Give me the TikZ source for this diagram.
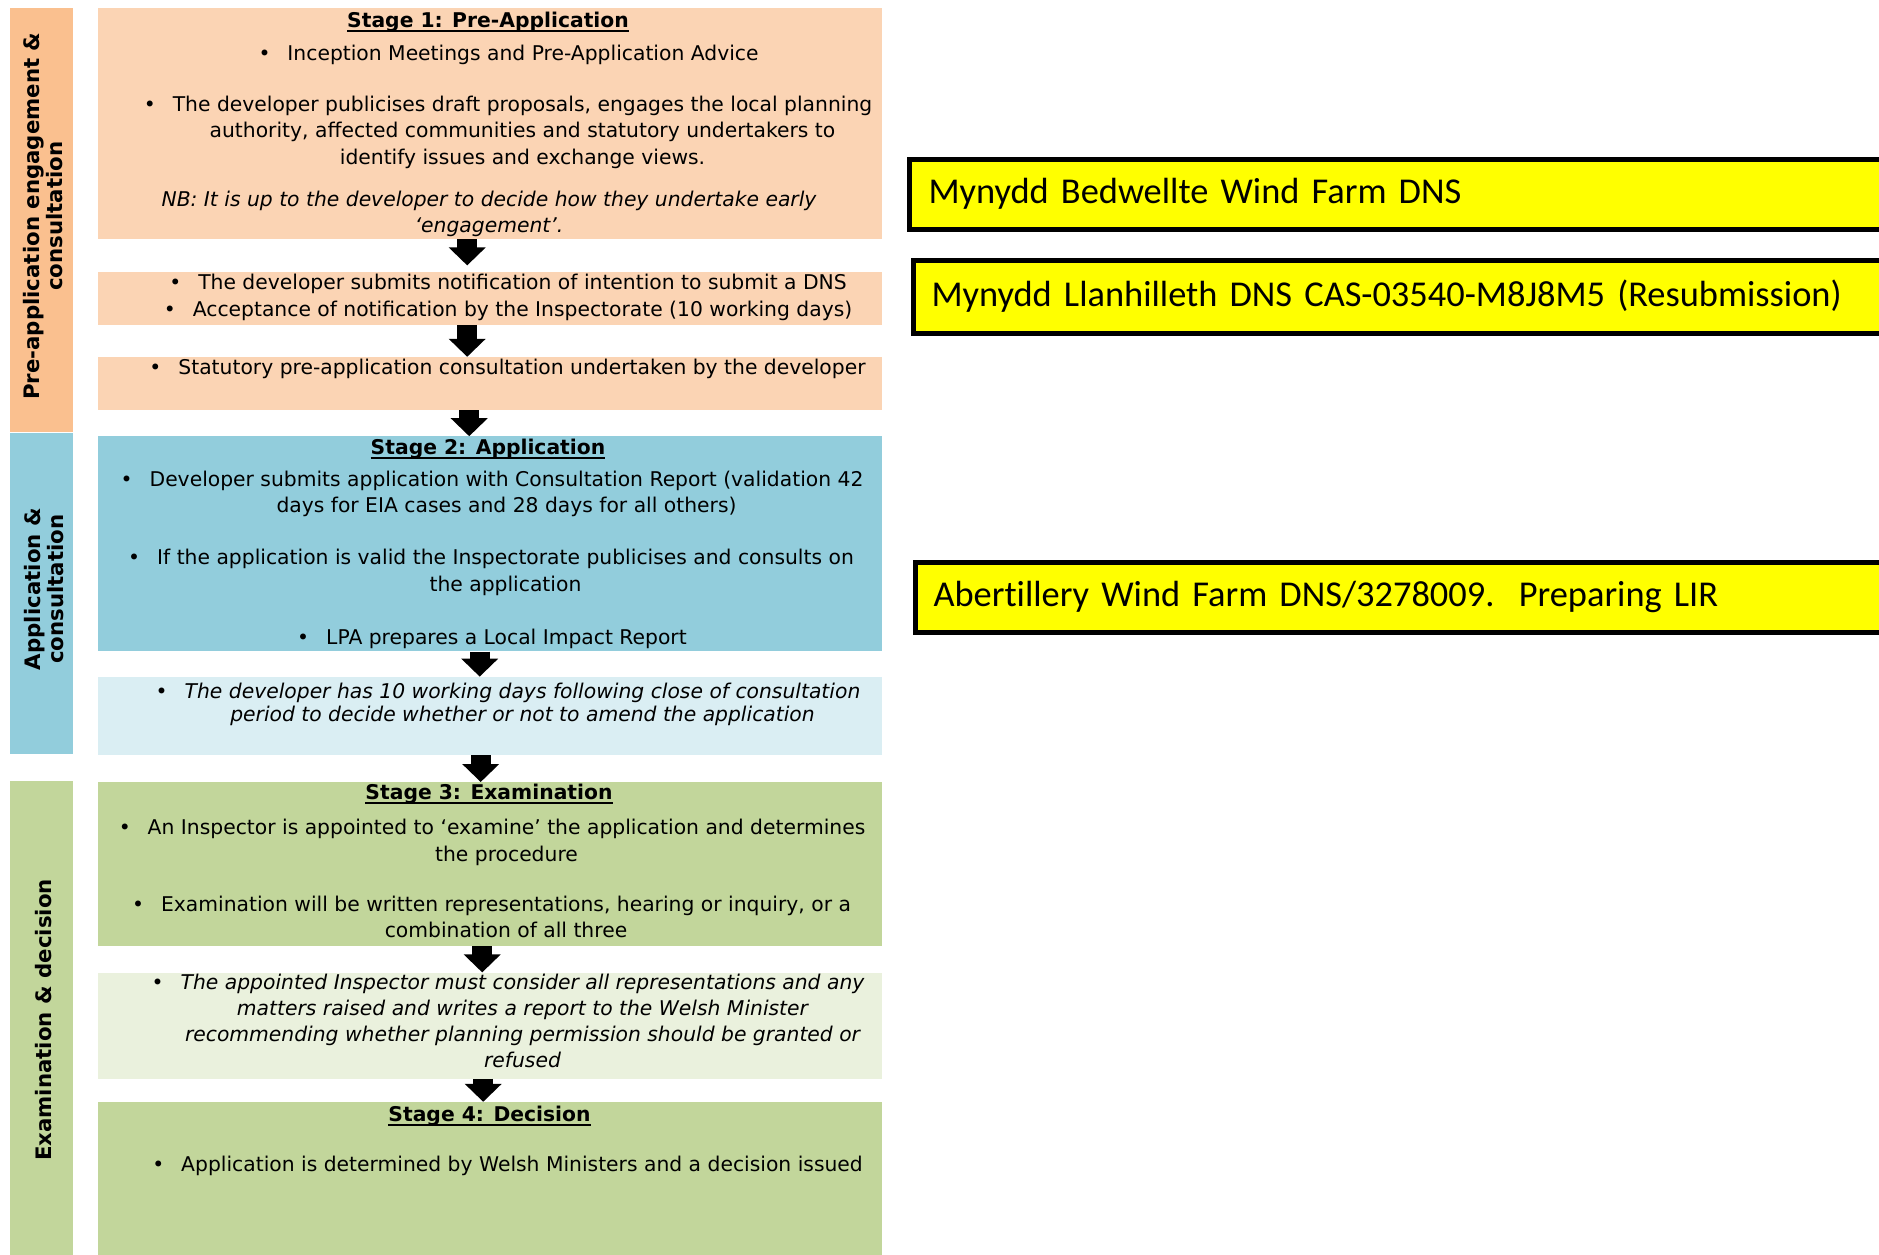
\documentclass[tikz,border=0pt]{standalone}
\usepackage{fontspec}
\setmainfont{DejaVu Sans}
\newfontfamily\calfont[Ligatures=NoCommon]{Carlito}
\usetikzlibrary{arrows.meta,positioning}
\definecolor{preorange}{HTML}{FAC08F}
\definecolor{prelight}{HTML}{FBD4B4}
\definecolor{appblue}{HTML}{92CDDC}
\definecolor{applight}{HTML}{DAEEF3}
\definecolor{exgreen}{HTML}{C2D69B}
\definecolor{exlight}{HTML}{EAF1DD}
\definecolor{dnsyellow}{HTML}{FFFF00}
\newsavebox{\headbox}
\newcommand{\bulletbox}{\makebox[29pt][l]{\textbullet}}
\newcommand{\contind}{\hspace*{29pt}}
\newcommand{\stagehead}[1]{\strut\sbox{\headbox}{\textbf{#1}}%
  \rlap{\rule[-4.5pt]{\wd\headbox}{2pt}}\usebox{\headbox}}

\begin{document}
\begin{tikzpicture}[
    x=1pt, y=-1pt,
    stagebox/.style={rectangle, inner sep=0pt, minimum width=784pt},
    sidebar/.style={rectangle, inner sep=0pt, minimum width=63pt},
    sidelabel/.style={rotate=90, align=center, inner sep=0pt,
      font=\bfseries\fontsize{21.3}{23}\selectfont},
    txt/.style={anchor=north, inner sep=0pt, align=center,
      font=\fontsize{20.3}{26.4}\selectfont},
    itxt/.style={txt, font=\itshape\fontsize{20.3}{26.4}\selectfont},
    blockarrow/.style={line width=20pt, -{Triangle[width=36pt,length=18pt]}},
    dnsbox/.style={rectangle, draw=black, line width=5pt, fill=dnsyellow,
      anchor=north west, minimum height=70pt, text width=960pt, align=left,
      inner xsep=18.5pt, inner ysep=0pt, font=\calfont\fontsize{36.4}{44}\selectfont}
  ]
    \useasboundingbox (0,0) rectangle (1879,1255);
    \clip (0,0) rectangle (1879,1255);
    % side bars
    \node[sidebar, fill=preorange, minimum height=424pt, anchor=north west] (prebar) at (10,8) {};
    \node[sidebar, fill=appblue, minimum height=321pt, below=0pt of prebar] (appbar) {};
    \node[sidebar, fill=exgreen, minimum height=475pt, below=27pt of appbar] (exbar) {};
    \node[sidelabel, xshift=4pt, yshift=-1.5pt] (prelbl) at (prebar.center) {Pre-application engagement \&\\consultation};
    \node[sidelabel, xshift=4pt, yshift=-2pt] (applbl) at (appbar.center) {Application \&\\consultation};
    \node[sidelabel, xshift=-1.5pt, yshift=-1.5pt] (exlbl) at (exbar.center) {Examination \& decision};
    % stage boxes
    \node[stagebox, fill=prelight, minimum height=231pt, anchor=north west] (s1) at (98,8) {};
    \node[stagebox, fill=prelight, minimum height=53pt, below=32pt of s1] (notif) {};
    \node[stagebox, fill=prelight, minimum height=53pt, below=32pt of notif] (statcons) {};
    \node[stagebox, fill=appblue, minimum height=215pt, below=26pt of statcons] (s2) {};
    \node[stagebox, fill=applight, minimum height=78pt, below=25pt of s2] (amend) {};
    \node[stagebox, fill=exgreen, minimum height=164pt, below=27pt of amend] (s3) {};
    \node[stagebox, fill=exlight, minimum height=106pt, below=26pt of s3] (report) {};
    \node[stagebox, fill=exgreen, minimum height=156pt, below=23pt of report] (s4) {};
    % stage 1 text
    \node[txt] (h1) at (488,8.5) {\stagehead{Stage 1: Pre-Application}};
    \node[txt] (advice) at (508.5,42) {\strut\bulletbox Inception Meetings and Pre-Application Advice};
    \node[txt] (publicise) at (508,92.8) {\strut\bulletbox The developer publicises draft proposals, engages the local planning\\
      \contind authority, affected communities and statutory undertakers to\\
      \contind identify issues and exchange views.};
    \node[itxt] (nb) at (489,187.5) {\strut NB: It is up to the developer to decide how they undertake early\\`engagement'.};
    \node[txt] (notiftxt) at (508,271) {\strut\bulletbox The developer submits notification of intention to submit a DNS\\
      \bulletbox Acceptance of notification by the Inspectorate (10 working days)};
    \node[txt] (stattxt) at (507.5,355.5) {\strut\bulletbox Statutory pre-application consultation undertaken by the developer};
    % stage 2 text
    \node[txt] (h2) at (488,436) {\stagehead{Stage 2: Application}};
    \node[txt] (submit) at (492,467.5) {\strut\bulletbox Developer submits application with Consultation Report (validation 42\\
      \contind days for EIA cases and 28 days for all others)};
    \node[txt] (valid) at (491,546) {\strut\bulletbox If the application is valid the Inspectorate publicises and consults on\\
      \contind the application};
    \node[txt] (lir) at (492,626) {\strut\bulletbox LPA prepares a Local Impact Report};
    \node[itxt, font=\itshape\fontsize{20.3}{23.5}\selectfont] (amendtxt) at (508,681.5) {\strut\bulletbox The developer has 10 working days following close of consultation\\
      \contind period to decide whether or not to amend the application};
    % stage 3 and 4 text
    \node[txt] (h3) at (489,781) {\stagehead{Stage 3: Examination}};
    \node[txt] (appoint) at (492,816) {\strut\bulletbox An Inspector is appointed to `examine' the application and determines\\
      \contind the procedure};
    \node[txt] (exam) at (491.5,892.5) {\strut\bulletbox Examination will be written representations, hearing or inquiry, or a\\
      \contind combination of all three};
    \node[itxt, font=\itshape\fontsize{20.3}{26}\selectfont] (reporttxt) at (508,971.4) {\strut\bulletbox The appointed Inspector must consider all representations and any\\
      \contind matters raised and writes a report to the Welsh Minister\\
      \contind recommending whether planning permission should be granted or\\
      \contind refused};
    \node[txt] (h4) at (489.5,1102.5) {\stagehead{Stage 4: Decision}};
    \node[txt] (decide) at (507.5,1152.5) {\strut\bulletbox Application is determined by Welsh Ministers and a decision issued};
    % arrows
    \draw[blockarrow, shorten >=6pt] ([xshift=-23pt]s1.south) -- ([xshift=-23pt]notif.north);
    \draw[blockarrow] ([xshift=-23pt]notif.south) -- ([xshift=-23pt]statcons.north);
    \draw[blockarrow] ([xshift=-21pt]statcons.south) -- ([xshift=-21pt]s2.north);
    \draw[blockarrow] ([xshift=-10.5pt]s2.south) -- ([xshift=-10.5pt]amend.north);
    \draw[blockarrow] ([xshift=-9.5pt]amend.south) -- ([xshift=-9.5pt]s3.north);
    \draw[blockarrow] ([xshift=-8pt]s3.south) -- ([xshift=-8pt]report.north);
    \draw[blockarrow] ([xshift=-7pt]report.south) -- ([xshift=-7pt]s4.north);
    % DNS cases
    \node[dnsbox, inner xsep=19.5pt] (bedwellte) at (906.5,156.5) {Mynydd Bedwellte Wind Farm DNS};
    \node[dnsbox, minimum height=73pt] (llanhilleth) at (910.5,257.5) {Mynydd Llanhilleth DNS CAS-03540-M8J8M5 (Resubmission)};
    \node[dnsbox] (abertillery) at (912.5,559.5) {Abertillery Wind Farm DNS/3278009.\ \ Preparing LIR};
\end{tikzpicture}
\end{document}
